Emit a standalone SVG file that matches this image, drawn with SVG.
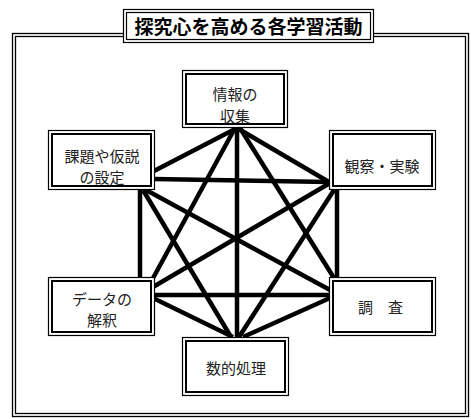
<svg xmlns="http://www.w3.org/2000/svg" width="471" height="419" viewBox="0 0 471 419">
<style>
.o{fill:#fff;stroke:#000;stroke-width:1.2}
.i{fill:none;stroke:#000;stroke-width:2}
.t{font-family:"Noto Sans CJK JP","Noto Sans CJK SC",sans-serif;font-size:15px;fill:#222;text-anchor:middle}
.ttl{font-family:"Noto Sans CJK JP","Noto Sans CJK SC",sans-serif;font-size:19px;font-weight:bold;fill:#000;text-anchor:middle}
#edges line{stroke:#000;stroke-width:4.5;stroke-linecap:butt}
</style>
<rect width="471" height="419" fill="#fff"/>
<g id="frame">
<rect x="12.5" y="33.5" width="456" height="383" fill="none" stroke="#000" stroke-width="1.3"/>
<rect x="15.5" y="36.5" width="450" height="377" fill="none" stroke="#000" stroke-width="1.3"/>
</g>
<g id="title">
<rect x="123.5" y="9.5" width="250" height="33" class="o"/>
<rect x="126.5" y="12.5" width="244" height="27" fill="none" stroke="#000" stroke-width="1.2"/>
<text x="248.5" y="34" class="ttl">探究心を高める各学習活動</text>
</g>
<g id="edges">
<line x1="237" y1="128" x2="154" y2="171"/>
<line x1="237" y1="128" x2="329" y2="182"/>
<line x1="237" y1="128" x2="237" y2="337"/>
<line x1="235" y1="128" x2="152" y2="280"/>
<line x1="240" y1="128" x2="334" y2="278"/>
<line x1="154" y1="179" x2="329" y2="182"/>
<line x1="140" y1="190" x2="140" y2="277"/>
<line x1="337" y1="190" x2="337" y2="277"/>
<line x1="146" y1="190" x2="330" y2="290"/>
<line x1="143" y1="190" x2="231" y2="337"/>
<line x1="330" y1="183" x2="153" y2="287"/>
<line x1="334" y1="190" x2="239" y2="337"/>
<line x1="153" y1="295" x2="330" y2="295"/>
<line x1="153" y1="298" x2="233" y2="337"/>
<line x1="330" y1="298" x2="243" y2="337"/>
</g>
<g id="n1">
<rect x="182.5" y="70.5" width="105" height="57" class="o"/>
<rect x="186" y="74" width="98" height="50" class="i"/>
<text x="235" y="100" class="t">情報の</text>
<text x="235" y="122" class="t">収集</text>
</g>
<g id="n2">
<rect x="48.5" y="130.5" width="106" height="59" class="o"/>
<rect x="52" y="134" width="99" height="52" class="i"/>
<text x="102" y="162" class="t">課題や仮説</text>
<text x="102" y="183" class="t">の設定</text>
</g>
<g id="n3">
<rect x="329.5" y="130.5" width="106" height="59" class="o"/>
<rect x="333" y="134" width="99" height="52" class="i"/>
<text x="382" y="172" class="t">観察・実験</text>
</g>
<g id="n4">
<rect x="48.5" y="277.5" width="106" height="58" class="o"/>
<rect x="52" y="281" width="99" height="51" class="i"/>
<text x="102" y="305" class="t">データの</text>
<text x="102" y="326" class="t">解釈</text>
</g>
<g id="n5">
<rect x="329.5" y="277.5" width="106" height="58" class="o"/>
<rect x="333" y="281" width="99" height="51" class="i"/>
<text x="358 373 388" y="313" class="t" style="text-anchor:start">調 査</text>
</g>
<g id="n6">
<rect x="182.5" y="337.5" width="106" height="58" class="o"/>
<rect x="186" y="341" width="99" height="51" class="i"/>
<text x="236" y="374" class="t">数的処理</text>
</g>
</svg>
